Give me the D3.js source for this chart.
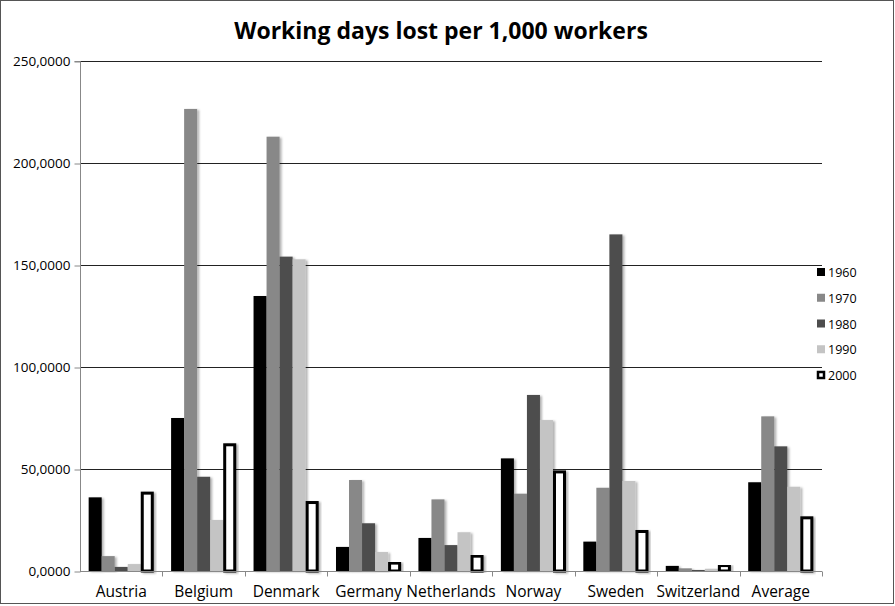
<!DOCTYPE html>
<html>
<head>
<meta charset="utf-8">
<script src="https://cdn.jsdelivr.net/npm/d3@7"></script>
<style>
body { margin: 0; background: #fff; }
text { font-family: "Open Sans", "DejaVu Sans", sans-serif; fill: #000; }
.title { font-weight: bold; font-size: 23px; }
.tick-label { font-size: 13.5px; }
.cat-label { font-size: 15.5px; }
.legend text { font-size: 12.5px; }
</style>
</head>
<body>
<svg width="895" height="606"></svg>
<script>
const countries = ["Austria", "Belgium", "Denmark", "Germany", "Netherlands", "Norway", "Sweden", "Switzerland", "Average"]
const years = ["1960", "1970", "1980", "1990", "2000"]

// working days lost per 1,000 workers
const v1960 = [36100, 75000, 134800, 11800, 16200, 55200, 14400, 2500, 43500]
const v1970 = [7300, 226500, 212900, 44600, 35100, 37900, 40800, 1300, 75800]
const v1980 = [2000, 46200, 154100, 23400, 12700, 86300, 165000, 500, 61100]
const v1990 = [3400, 25000, 152800, 9300, 19000, 74000, 44100, 1100, 41300]
const v2000 = [38900, 62600, 34300, 4600, 8000, 49300, 20100, 3400, 26800]
const yTicks = [0, 50000, 100000, 150000, 200000, 250000]

const series = [v1960, v1970, v1980, v1990, v2000]
const fills = ["#000000", "#888888", "#4d4d4d", "#c4c4c4", "#ffffff"]

const svg = d3.select("svg")

// drop shadow like the spreadsheet bars
const defs = svg.append("defs")
const shadow = defs.append("filter").attr("id", "shadow").attr("x", "-20%").attr("y", "-5%").attr("width", "160%").attr("height", "115%")
shadow.append("feDropShadow").attr("dx", 2).attr("dy", 1).attr("stdDeviation", 1.2).attr("flood-color", "#000").attr("flood-opacity", 0.3)

// outer frame
svg.append("rect")
	.attr("x", 0.5).attr("y", 0.5)
	.attr("width", 893).attr("height", 603)
	.attr("fill", "none")
	.attr("stroke", "#555")

const plotL = 80, plotR = 822, plotT = 61, plotB = 571

const x0 = d3.scaleBand().domain(countries).range([plotL, plotR]).paddingInner(0.21).paddingOuter(0.105)
const x1 = d3.scaleBand().domain(years).range([0, x0.bandwidth()])
const y = d3.scaleLinear().domain([0, 250000]).range([plotB, plotT])

// gridlines
svg.append("g")
	.selectAll("line")
	.data(yTicks.slice(1))
	.enter()
	.append("line")
	.attr("x1", plotL).attr("x2", plotR)
	.attr("y1", d => Math.round(y(d)) + 0.5)
	.attr("y2", d => Math.round(y(d)) + 0.5)
	.attr("stroke", "#222")

// y axis
const yAxis = svg.append("g")
	.attr("transform", `translate(${plotL + 0.5}, 0.5)`)
	.call(d3.axisLeft(y).tickValues(yTicks).tickSize(6).tickPadding(4)
		.tickFormat(d => d3.format(",")(d / 1000).replace(/,/g, "") + ",0000"))
yAxis.select(".domain").attr("stroke", "#888").attr("d", `M-6,${y(250000)}H0V${y(0)}`)
yAxis.selectAll(".tick line").attr("stroke", "#888")
yAxis.selectAll(".tick text").attr("class", "tick-label").attr("fill", "#000")
yAxis.attr("font-family", null).attr("font-size", null)

// bars
const groups = svg.append("g")
	.selectAll("g.country")
	.data(countries)
	.enter()
	.append("g")
	.attr("class", "country")
	.attr("transform", d => `translate(${x0(d)}, 0)`)

groups.selectAll("rect")
	.data((d, i) => years.map((yr, j) => ({ yr: yr, value: series[j][i], j: j })))
	.enter()
	.append("rect")
	.attr("filter", "url(#shadow)")
	.attr("x", d => x1(d.yr) + (d.j === 4 ? 1.5 : 0))
	.attr("width", d => x1.bandwidth() - (d.j === 4 ? 3 : 0))
	.attr("y", d => y(d.value) + (d.j === 4 ? 1.5 : 0))
	.attr("height", d => Math.max(0, plotB - y(d.value) - (d.j === 4 ? 1.5 : 0)))
	.attr("fill", d => fills[d.j])
	.attr("stroke", d => d.j === 4 ? "#000" : "none")
	.attr("stroke-width", 3)

// x axis
const xAxis = svg.append("g").attr("transform", `translate(0, ${plotB + 0.5})`)
xAxis.append("line").attr("x1", plotL).attr("x2", plotR).attr("stroke", "#888")
xAxis.selectAll("line.tk")
	.data(countries.slice(1).map(c => x0(c) - x0.step() * x0.paddingInner() / 2).concat([plotR]))
	.enter()
	.append("line")
	.attr("class", "tk")
	.attr("x1", d => Math.round(d) + 0.5).attr("x2", d => Math.round(d) + 0.5)
	.attr("y1", 0).attr("y2", 5)
	.attr("stroke", "#888")
xAxis.selectAll("text")
	.data(countries)
	.enter()
	.append("text")
	.attr("class", "cat-label")
	.attr("x", d => x0(d) + x0.bandwidth() / 2)
	.attr("y", 25)
	.attr("text-anchor", "middle")
	.text(d => d)

// title
svg.append("text")
	.attr("class", "title")
	.attr("x", 441)
	.attr("y", 39)
	.attr("text-anchor", "middle")
	.text("Working days lost per 1,000 workers")

// legend
const legend = svg.append("g").attr("class", "legend")
const ly = d3.scalePoint().domain(years).range([273, 376])
const items = legend.selectAll("g")
	.data(years)
	.enter()
	.append("g")
	.attr("transform", d => `translate(817, ${ly(d)})`)
items.append("rect")
	.attr("x", (d, i) => i === 4 ? 1 : 0)
	.attr("y", (d, i) => i === 4 ? -4 : -5)
	.attr("width", (d, i) => i === 4 ? 6 : 8)
	.attr("height", (d, i) => i === 4 ? 6 : 8)
	.attr("fill", (d, i) => fills[i])
	.attr("stroke", (d, i) => i === 4 ? "#000" : "none")
	.attr("stroke-width", 2.5)
items.append("text")
	.attr("x", 11)
	.attr("y", 4)
	.text(d => d)
</script>
</body>
</html>
